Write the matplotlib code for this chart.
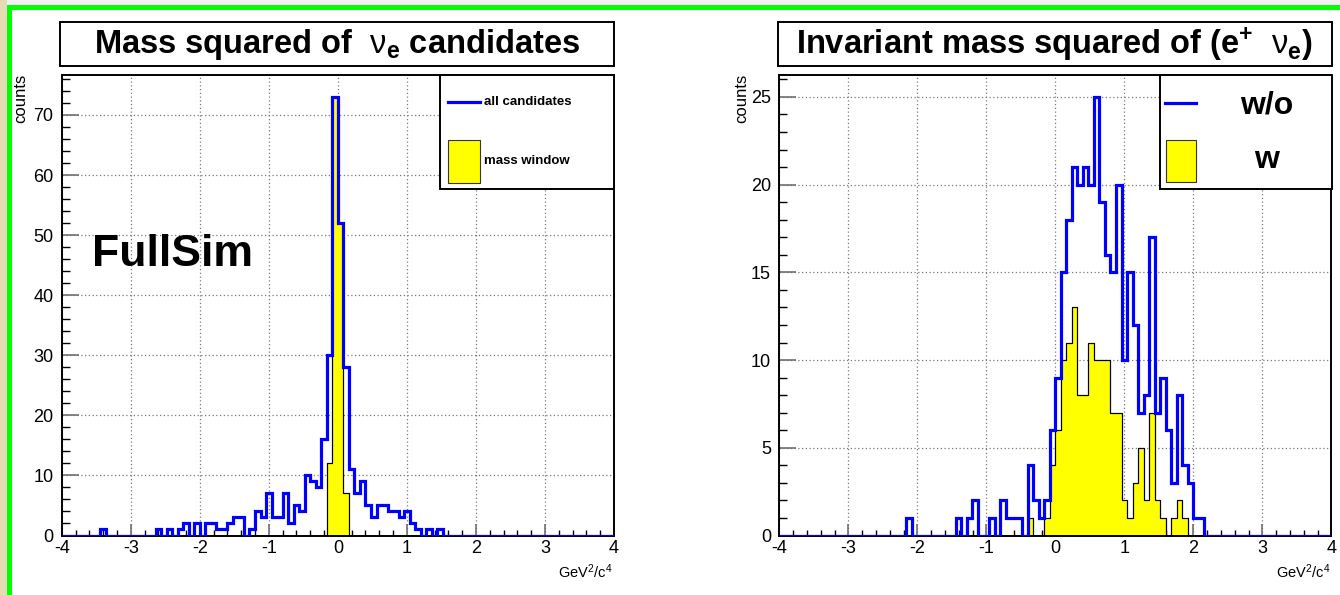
import numpy as np
import matplotlib
matplotlib.use("Agg")
import matplotlib.pyplot as plt
from matplotlib.patches import Rectangle
from matplotlib.lines import Line2D

plt.rcParams['font.family'] = ['Liberation Sans', 'DejaVu Sans']
plt.rcParams['axes.unicode_minus'] = False
plt.rcParams['mathtext.fontset'] = 'custom'
plt.rcParams['mathtext.rm'] = 'Liberation Sans'
plt.rcParams['mathtext.bf'] = 'Liberation Sans:bold'
plt.rcParams['mathtext.it'] = 'Liberation Sans:italic'
plt.rcParams['mathtext.sf'] = 'Liberation Sans'

# ---------------- data ----------------
bin_edges = np.linspace(-4, 4, 101)   # 100 bins of 0.08 GeV^2/c^4

# left panel: mass squared of nu_e candidates
left_all = [0]*7 + [1] + [0]*9 + [1, 0, 1, 0, 1, 2, 0, 2, 0, 2, 2, 1, 1, 2, 3, 3, 0, 1, 4, 3,
                                  7, 3, 3, 7, 2, 5, 4, 10, 9, 8, 16, 30, 73, 52, 28, 11, 7, 9,
                                  5, 3, 5, 5, 4, 4, 3, 4, 2, 1, 0, 1, 0, 1]
left_all = left_all + [0]*(100 - len(left_all))
left_window = [0]*48 + [12, 73, 52, 7] + [0]*48

# right panel: invariant mass squared of (e+ nu_e)
right_wo = ([0]*23 + [1] + [0]*8 + [1, 0, 1, 2, 0, 0, 1, 0, 2, 1, 1, 1, 0, 4, 2, 1, 2, 6,
            9, 15, 18, 21, 20, 21, 20, 25, 19, 16, 15, 20, 10, 15, 12, 7, 8, 17, 7, 9,
            6, 3, 8, 4, 3, 1, 1])
right_wo = right_wo + [0]*(100 - len(right_wo))
right_w = ([0]*45 + [1, 0, 0, 1, 4, 6, 10, 11, 13, 8, 8, 11, 10, 10, 10, 7, 7, 2, 1, 3,
           5, 2, 7, 2, 1, 0, 1, 2, 1])
right_w = right_w + [0]*(100 - len(right_w))

left_title = r'Mass squared of  $\mathrm{\nu}_{\mathbf{e}}$ candidates'
right_title = r'Invariant mass squared of (e$^{\mathbf{+}}$  $\mathrm{\nu}_{\mathbf{e}}$)'
left_legend = ['all candidates', 'mass window']
right_legend = ['w/o', 'w']
x_label = r'GeV$^{2}$/c$^{4}$'
y_label = 'counts'
x_ticks = list(range(-4, 5))
left_yticks = list(range(0, 71, 10))
right_yticks = list(range(0, 26, 5))

# ---------------- figure ----------------
W, H = 1340, 595
fig = plt.figure(figsize=(W/100, H/100), dpi=100)
fig.patch.set_facecolor('white')

def fx(x):
    return x / W

def fy(y):
    return 1 - y / H

def rect(x0, y0, x1, y1, **kw):
    r = Rectangle((fx(x0), fy(y1)), (x1 - x0)/W, (y1 - y0)/H,
                  transform=fig.transFigure, **kw)
    fig.add_artist(r)
    return r

# slide frame
rect(0, 0, 7, 595, facecolor='#e6dcb4', edgecolor='none', zorder=0)
rect(7, 0, 1340, 5, facecolor='#f2f2f2', edgecolor='none', zorder=0)
rect(7, 5, 11.5, 595, facecolor='#00ff00', edgecolor='none', zorder=0)
rect(7, 5, 1340, 10, facecolor='#00ff00', edgecolor='none', zorder=0)

BLUE = '#0000ff'
YELLOW = '#ffff00'

def make_axes(x0, x1, ymax, yticks, yminor, all_vals, win_vals):
    y0p, y1p = 75, 535.5
    ax = fig.add_axes([fx(x0), fy(y1p), (x1 - x0)/W, (y1p - y0p)/H])
    ax.stairs(win_vals, bin_edges, fill=True, facecolor=YELLOW, edgecolor='black',
              linewidth=0.8, zorder=2)
    ax.stairs(win_vals, bin_edges, fill=False, color='black', linewidth=0.8, zorder=2)
    ax.stairs(all_vals, bin_edges, color=BLUE, linewidth=2.3, zorder=3)
    ax.set_xlim(-4, 4)
    ax.set_ylim(0, ymax)
    ax.set_xticks(x_ticks)
    ax.set_xticks(np.arange(-4, 4.001, 0.2), minor=True)
    ax.set_yticks(yticks)
    ax.set_yticks(yminor, minor=True)
    ax.grid(True, which='major', color='#7a7a7a', linestyle=(0, (1, 2)), linewidth=0.9)
    ax.set_axisbelow(True)
    ax.tick_params(axis='both', which='both', direction='in', top=False, right=False,
                   labelsize=13)
    ax.tick_params(axis='x', which='major', length=9, width=1.2, color='#707070', pad=3)
    ax.tick_params(axis='x', which='minor', length=4.5, width=1.0, color='black')
    ax.tick_params(axis='y', which='major', length=12, width=1.2, color='#707070', pad=6)
    ax.tick_params(axis='y', which='minor', length=6, width=1.0, color='black')
    for s in ax.spines.values():
        s.set_linewidth(1.4)
        s.set_color('black')
    return ax

axL = make_axes(61.7, 614, 76.65, left_yticks, np.arange(0, 77, 2), left_all, left_window)
axR = make_axes(779.3, 1331.3, 26.25, right_yticks, np.arange(0, 27, 1), right_wo, right_w)

# title boxes
for (x0, x1, t) in [(60, 613.5, left_title), (778, 1331.5, right_title)]:
    rect(x0, 22, x1, 66, facecolor='white', edgecolor='black', linewidth=1.4, zorder=4)
    fig.text(fx((x0 + x1)/2), fy(44), t, ha='center', va='center', fontsize=23.5,
             fontweight='bold', zorder=5)

# axis labels
for xr, xl in [(612, 21), (1330, 742)]:
    fig.text(fx(xr), fy(572), x_label, ha='right', va='center', fontsize=10.5)
    fig.text(fx(xl), fy(74), y_label, ha='center', va='top', rotation=90, fontsize=12)

# left legend
rect(440, 75, 614, 189, facecolor='white', edgecolor='black', linewidth=1.4, zorder=4)
fig.add_artist(Line2D([fx(448), fx(480)], [fy(102), fy(102)], transform=fig.transFigure,
                      color=BLUE, linewidth=2.3, zorder=5))
rect(448, 140, 480, 183, facecolor=YELLOW, edgecolor='#333333', linewidth=0.8, zorder=5)
fig.text(fx(484), fy(102), left_legend[0], ha='left', va='center', fontsize=9.5,
         fontweight='bold', zorder=6)
fig.text(fx(484), fy(161), left_legend[1], ha='left', va='center', fontsize=9.5,
         fontweight='bold', zorder=6)

# right legend
rect(1160, 75, 1332, 189, facecolor='white', edgecolor='black', linewidth=1.4, zorder=4)
fig.add_artist(Line2D([fx(1165), fx(1196)], [fy(103), fy(103)], transform=fig.transFigure,
                      color=BLUE, linewidth=2.3, zorder=5))
rect(1166, 140, 1196, 182, facecolor=YELLOW, edgecolor='#333333', linewidth=0.8, zorder=5)
fig.text(fx(1267), fy(105), right_legend[0], ha='center', va='center', fontsize=23,
         fontweight='bold', zorder=6)
fig.text(fx(1267), fy(160), right_legend[1], ha='center', va='center', fontsize=23,
         fontweight='bold', zorder=6)

# FullSim label
fig.text(fx(92), fy(255), 'FullSim', ha='left', va='center', fontsize=32,
         fontweight='bold', zorder=6)

fig.savefig('out.png', dpi=100)
